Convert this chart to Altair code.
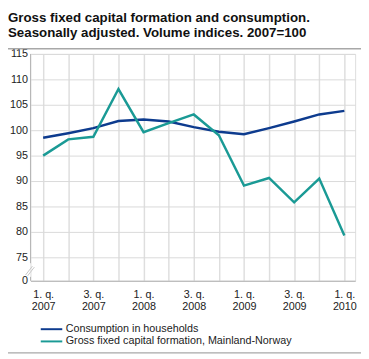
import altair as alt
import pandas as pd

quarters = ["1. q. 2007", "2. q. 2007", "3. q. 2007", "4. q. 2007",
            "1. q. 2008", "2. q. 2008", "3. q. 2008", "4. q. 2008",
            "1. q. 2009", "2. q. 2009", "3. q. 2009", "4. q. 2009",
            "1. q. 2010"]
consumption = [98.5, 99.4, 100.4, 101.8, 102.1, 101.7, 100.6, 99.7, 99.2, 100.4, 101.7, 103.1, 103.8]
gfcf = [95.0, 98.2, 98.7, 108.1, 99.6, 101.4, 103.1, 99.0, 89.1, 90.6, 85.8, 90.5, 79.3]
series_names = ["Consumption in households", "Gross fixed capital formation, Mainland-Norway"]
series_colors = ["#0d3b8e", "#1a9a95"]
title_lines = ["Gross fixed capital formation and consumption.",
               "Seasonally adjusted. Volume indices. 2007=100"]
y_break = 70.38
y_ticks = [y_break, 75, 80, 85, 90, 95, 100, 105, 110, 115]

rows = []
for q, c, g in zip(quarters, consumption, gfcf):
    rows.append({"quarter": q, "series": series_names[0], "value": c})
    rows.append({"quarter": q, "series": series_names[1], "value": g})
df = pd.DataFrame(rows)

FONT = "Liberation Sans"
W, H = 332, 232

lines = alt.Chart(df).mark_line(strokeWidth=2.5).encode(
    x=alt.X("quarter:O", sort=quarters,
            scale=alt.Scale(type="point", padding=0.467, align=0.54),
            axis=alt.Axis(title=None, grid=True, gridColor="#dedede", gridWidth=1.5,
                          ticks=False, domainColor="#b5b5b5", domainWidth=1,
                          labelAngle=0, labelPadding=8.5, labelFontSize=11,
                          labelColor="#222222", labelFont=FONT, labelLineHeight=11.5,
                          labelBaseline="top",
                          labelExpr="(indexof(datum.value,'2. q.')==0 || indexof(datum.value,'4. q.')==0) ? '' : [substring(datum.value,0,5), substring(datum.value,6)]")),
    y=alt.Y("value:Q",
            scale=alt.Scale(domain=[y_break, 115], nice=False, zero=False),
            axis=alt.Axis(title=None, values=y_ticks, grid=True, gridColor="#d9d9d9",
                          gridWidth=1, ticks=False, domain=False, labelPadding=3,
                          labelFontSize=11, labelColor="#222222", labelFont=FONT,
                          labelExpr="datum.value < 74 ? '0' : datum.label")),
    color=alt.Color("series:N",
                    scale=alt.Scale(domain=series_names, range=series_colors),
                    legend=alt.Legend(title=None, orient="none", legendX=16, legendY=276,
                                      symbolType="M-2.75,0H2.75", symbolSize=64,
                                      symbolStrokeWidth=2, labelFontSize=11,
                                      labelFont=FONT, labelColor="#222222",
                                      labelOffset=9, rowPadding=0.5, labelLimit=0)),
)

one = alt.Data(values=[{}])

sep_top = alt.Chart(one).mark_rule(color="#a8a8a8", strokeWidth=1.5).encode(
    x=alt.value(-23), x2=alt.value(338), y=alt.value(-5.3))
sep_bottom = alt.Chart(one).mark_rule(color="#a8a8a8", strokeWidth=1.5).encode(
    x=alt.value(-23), x2=alt.value(338), y=alt.value(305.7))

axis_upper = alt.Chart(one).mark_rule(color="#b5b5b5", strokeWidth=1).encode(
    x=alt.value(0), y=alt.value(0), y2=alt.value(214))
axis_lower = alt.Chart(one).mark_rule(color="#b5b5b5", strokeWidth=1).encode(
    x=alt.value(0), y=alt.value(228), y2=alt.value(232))
brk1 = alt.Chart(one).mark_rule(color="#c8c8c8", strokeWidth=1).encode(
    x=alt.value(-5), x2=alt.value(2), y=alt.value(226), y2=alt.value(217))
brk2 = alt.Chart(one).mark_rule(color="#c8c8c8", strokeWidth=1).encode(
    x=alt.value(-3), x2=alt.value(4), y=alt.value(227), y2=alt.value(218))

title = alt.Chart(one).mark_text(
    align="left", baseline="alphabetic", fontSize=13.6, fontWeight="bold",
    font=FONT, lineHeight=16, color="#111111", text=title_lines
).encode(x=alt.value(-23), y=alt.value(-33))

chart = alt.layer(
    sep_top, sep_bottom, lines, axis_upper, axis_lower, brk1, brk2, title
).properties(
    width=W, height=H,
    padding={"left": 23, "top": 43, "right": 6, "bottom": 76},
    autosize=alt.AutoSizeParams(type="none"),
).configure_view(stroke=None).configure(font=FONT)

chart.save("out.html", embed_options={"renderer": "svg", "actions": False})
